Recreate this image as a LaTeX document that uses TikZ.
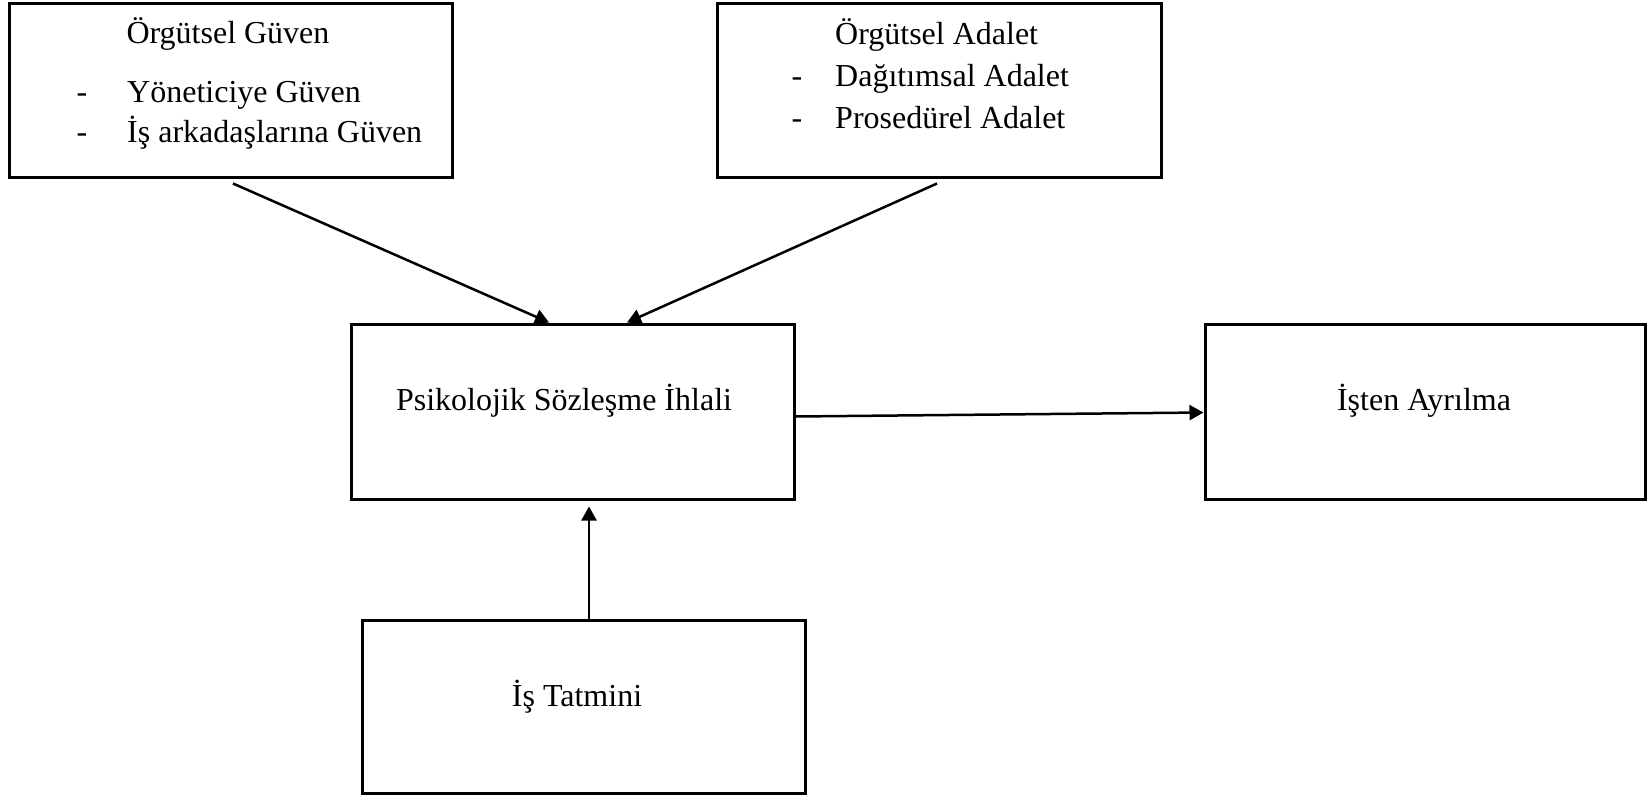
\documentclass[tikz,border=0pt]{standalone}
\usepackage{fontspec}
\setmainfont{Liberation Serif}
\usetikzlibrary{arrows.meta}
\begin{document}
\begin{tikzpicture}[x=1pt,y=-1pt,
  box/.style={draw=black, line width=3pt, rectangle, inner sep=0pt},
  lbl/.style={inner sep=0pt, font=\fontsize{32}{38}\selectfont},
  arr/.style={line width=2.5pt, -{Triangle[length=14pt,width=15pt]}}]
\useasboundingbox (0,0) rectangle (1647,795);
% boxes
\node[box, minimum width=443pt, minimum height=174pt] (b1) at (230.5,90) {};
\node[box, minimum width=444pt, minimum height=174pt] (b2) at (939,90) {};
\node[box, minimum width=443pt, minimum height=175pt] (b3) at (572.5,411.5) {};
\node[box, minimum width=440pt, minimum height=175pt] (b4) at (1425,411.5) {};
\node[box, minimum width=443pt, minimum height=173pt] (b5) at (583.5,707) {};
% texts box 1
\node[lbl, anchor=base] (t1) at (228,43) {Örgütsel Güven};
\node[lbl, anchor=base] (d1a) at (82,102) {-};
\node[lbl, anchor=base west] (t1a) at (127,102) {Yöneticiye Güven};
\node[lbl, anchor=base] (d1b) at (82,142) {-};
\node[lbl, anchor=base west] (t1b) at (127,142) {İş arkadaşlarına Güven};
% texts box 2
\node[lbl, anchor=base west] (t2) at (835,44) {Örgütsel Adalet};
\node[lbl, anchor=base] (d2a) at (797,86) {-};
\node[lbl, anchor=base west] (t2a) at (835,86) {Dağıtımsal Adalet};
\node[lbl, anchor=base] (d2b) at (797,128) {-};
\node[lbl, anchor=base west] (t2b) at (835,128) {Prosedürel Adalet};
% other texts
\node[lbl, anchor=base] (t3) at (564,410) {Psikolojik Sözleşme İhlali};
\node[lbl, anchor=base] (t4) at (1424,410) {İşten Ayrılma};
\node[lbl, anchor=base] (t5) at (577,706) {İş Tatmini};
% connectors
\draw[arr] ([xshift=2.5pt,yshift=-5pt]b1.south) -- ([xshift=-23.5pt]b3.north);
\draw[arr] ([xshift=-2pt,yshift=-5pt]b2.south) -- ([xshift=54.5pt]b3.north);
\draw[arr] ([yshift=-5pt]b3.east) -- ([yshift=-1pt]b4.west);
\draw[arr] ([xshift=5.5pt]b5.north) -- ([xshift=16.5pt,yshift=-6pt]b3.south);
\end{tikzpicture}
\end{document}
